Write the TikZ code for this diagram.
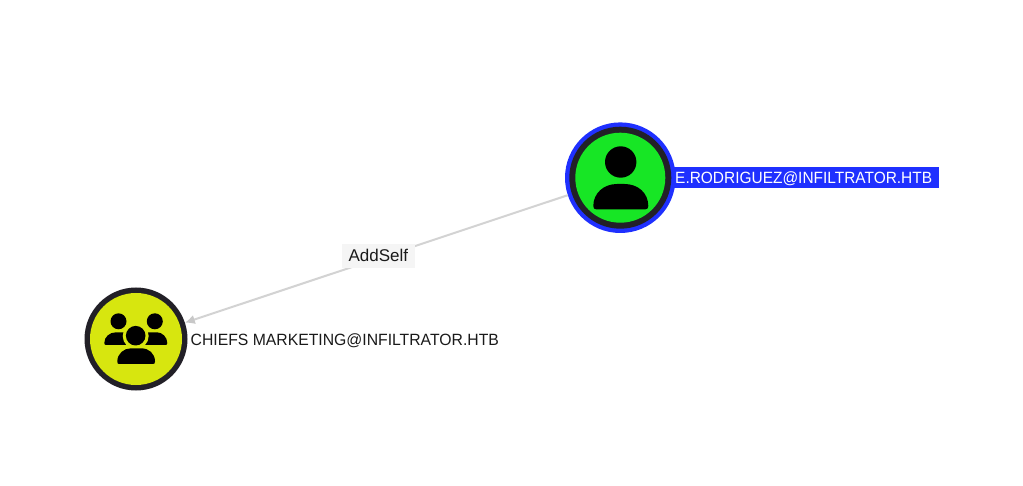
\documentclass[tikz,border=0pt]{standalone}
\usepackage{fontspec}
\setmainfont{Liberation Sans}
\usetikzlibrary{arrows.meta}
\definecolor{ublue}{HTML}{1F30FF}
\definecolor{ugreen}{HTML}{17E625}
\definecolor{gyellow}{HTML}{D7E60F}
\definecolor{ringdark}{HTML}{222027}
\definecolor{edgegrey}{HTML}{D3D3D3}
\definecolor{edgelabel}{HTML}{F5F5F5}
\definecolor{txt}{HTML}{1A1A1A}
\tikzset{
  x=1pt,y=-1pt,
  hub/.style={circle,inner sep=0pt,outer sep=0pt,fill=#1},
  nametag/.style={anchor=west,inner sep=0pt,font=\fontsize{16.3}{18}\selectfont,text height=12pt,text depth=0pt},
  link/.style={draw=edgegrey,line width=2pt,-{Latex[length=10pt,width=9.5pt,color=edgegrey!95!black]}},
  linktag/.style={fill=edgelabel,inner sep=0pt,minimum width=73pt,minimum height=23.5pt,font=\fontsize{17}{19}\selectfont,text=txt},
  glyph/.style={fill=black,draw=none}
}
\begin{document}
\begin{tikzpicture}
\useasboundingbox (0,0) rectangle (1023,486);
\fill[white] (0,0) rectangle (1023,486);
% blue name plate behind node
\node[fill=ublue,minimum width=267pt,minimum height=21pt,inner sep=0pt,anchor=west] (uplate) at (672,177.5) {};
% nodes
\node[hub=ublue,minimum size=110.6pt] (user) at (620.3,177.7) {};
\node[hub=ringdark,minimum size=102pt] (userring) at (user) {};
\node[hub=ugreen,minimum size=90pt] (usercore) at (user) {};
\node[hub=ringdark,minimum size=103pt] (group) at (136,339) {};
\node[hub=gyellow,minimum size=92pt] (groupcore) at (group) {};
% connector
\draw[link] (user) -- (group);
% connector label
\node[linktag] (addself) at (378.3,255.8) {AddSelf};
% user glyph
\fill[glyph] (620.7,162) circle (15.7);
\fill[glyph] (593.3,206) .. controls (593.3,193) and (604,184) .. (617,184) -- (624.5,184) .. controls (638,184) and (648.3,193) .. (648.3,206) .. controls (648.3,208.3) and (647.3,209.3) .. (645.5,209.3) -- (596,209.3) .. controls (594.3,209.3) and (593.3,208.3) .. (593.3,206) -- cycle;
% group glyph
\fill[glyph] (118.5,321.3) circle (8);
\fill[glyph] (154.8,321.3) circle (8);
\fill[glyph] (104.3,343) .. controls (104.3,337) and (109.5,332.3) .. (116,332.3) -- (157,332.3) .. controls (162,332.3) and (167.3,337) .. (167.3,343) .. controls (167.3,344.5) and (166.5,345) .. (165.5,345) -- (106,345) .. controls (105,345) and (104.3,344.5) .. (104.3,343) -- cycle;
\fill[gyellow] (135.7,336) circle (13);
\fill[gyellow] (113,346) rectangle (160,365);
\fill[glyph] (135.7,335.7) circle (9.8);
\fill[glyph] (117.3,361.5) .. controls (117.3,353.5) and (124,348.3) .. (131,348.3) -- (141,348.3) .. controls (149,348.3) and (155,353.5) .. (155,361.5) .. controls (155,363.3) and (154.2,364) .. (153,364) -- (119,364) .. controls (118,364) and (117.3,363.3) .. (117.3,361.5) -- cycle;
% name labels
\node[nametag,text=white] (ulabel) at (675,177.5) {\scalebox{0.948}[1]{E.RODRIGUEZ@INFILTRATOR.HTB}};
\node[nametag,text=txt] (glabel) at (190.5,339.3) {\scalebox{0.966}[1]{CHIEFS MARKETING@INFILTRATOR.HTB}};
\end{tikzpicture}
\end{document}
